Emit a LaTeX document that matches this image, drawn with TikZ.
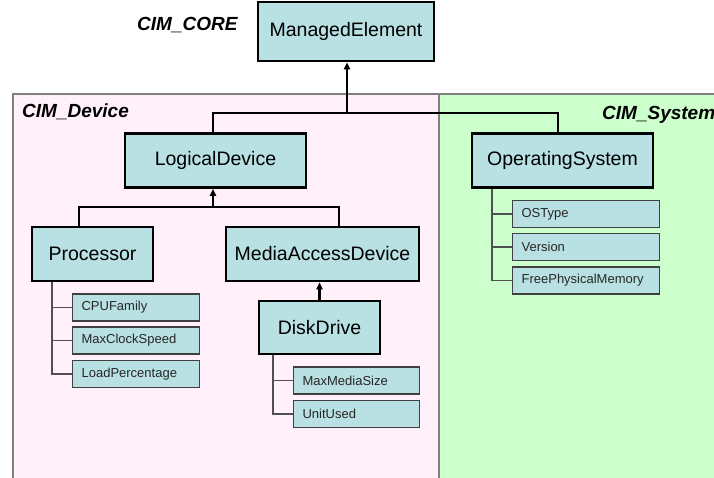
\documentclass[tikz,border=0pt]{standalone}
\usepackage{fontspec}
\setmainfont{Liberation Sans}
\usetikzlibrary{arrows.meta, positioning}

\definecolor{pinkbg}{HTML}{FFF0FA}
\definecolor{greenbg}{HTML}{CCFFCC}
\definecolor{classfill}{HTML}{B9E0E2}
\definecolor{edgegray}{HTML}{808080}
\definecolor{attrline}{HTML}{505050}

\begin{document}
\begin{tikzpicture}[x=1pt, y=-1pt,
    class/.style={draw, line width=2.6pt, fill=classfill, minimum height=54pt,
      inner sep=0pt, font=\fontsize{19.5}{22}\selectfont},
    attr/.style={draw=black!75, line width=1.2pt, fill=classfill, minimum height=27pt,
      inner xsep=9pt, inner ysep=0pt, text width=#1, align=left, anchor=west,
      text=black!85, font=\fontsize{13}{15}\selectfont},
    pkg/.style={anchor=base west, inner sep=0pt, font=\fontsize{19}{22}\selectfont\bfseries\itshape},
    link/.style={line width=2.4pt},
    arrowlink/.style={link, -{Triangle[length=7pt, width=6pt]}},
    tree/.style={attrline, line width=1.2pt}]

      \useasboundingbox (0,0) rectangle (714,477);

      % Draw the two package areas
      \fill[pinkbg] (13,94) rectangle (439,482);
      \fill[greenbg] (439,94) rectangle (720,482);
      \draw[edgegray, line width=1.2pt] (13,482) -- (13,94) -- (720,94);
      \draw[edgegray, line width=1.2pt] (439,94) -- (439,482);

      \node[pkg] (core) at (137,30) {CIM\_CORE};
      \node[pkg] (device) at (22,117) {CIM\_Device};
      \node[pkg] (system) at (602,119) {CIM\_System};

      % Draw the classes
      \node[class, minimum width=176pt, minimum height=59pt] (mgd) at (346,31.5) {ManagedElement};
      \node[class, minimum width=181pt] (logdev) at (215.5,160.5) {LogicalDevice};
      \node[class, minimum width=181pt] (osys) at (562.5,160.5) {OperatingSystem};
      \node[class, minimum width=121pt] (proc) at (92.5,254) {Processor};
      \node[class, minimum width=193pt] (mad) at (322.5,254) {MediaAccessDevice};
      \node[class, minimum width=121pt, minimum height=53pt] (disk) at (319.5,327.5) {DiskDrive};

      % Draw the attribute boxes
      \node[attr=109pt] (cpu) at (72,307.5) {CPUFamily};
      \node[attr=109pt] (clock) at (72,340.5) {MaxClockSpeed};
      \node[attr=109pt] (load) at (72,374) {LoadPercentage};

      \node[attr=108pt] (media) at (293,380.5) {MaxMediaSize};
      \node[attr=108pt] (unit) at (293,414) {UnitUsed};

      \node[attr=129pt] (ostype) at (512,214) {OSType};
      \node[attr=129pt] (version) at (512,247) {Version};
      \node[attr=129pt] (freemem) at (512,280.5) {FreePhysicalMemory};

      % Draw the inheritance lines
      \coordinate (topbus) at (347,113);
      \draw[link] ([xshift=-2.5]logdev.north) |- (topbus);
      \draw[link] ([xshift=-4.5]osys.north) |- (topbus);
      \draw[arrowlink] (topbus) -- (topbus |- mgd.south);

      \coordinate (devbus) at (213,207);
      \draw[link] ([xshift=-13.5]proc.north) |- (devbus);
      \draw[link] ([xshift=16.5]mad.north) |- (devbus);
      \draw[arrowlink] (devbus) -- (devbus |- logdev.south);

      \draw[arrowlink] (disk.north) -- (disk.north |- mad.south);

      % Draw the lines to the attributes
      \draw[tree] (cpu.west) -- ++(-20,0);
      \draw[tree] (clock.west) -- ++(-20,0);
      \draw[tree] (load.west) -- ++(-20,0) coordinate (pbend) -- (pbend |- proc.south);

      \draw[tree] (media.west) -- ++(-20,0);
      \draw[tree] (unit.west) -- ++(-20,0) coordinate (dbend) -- (dbend |- disk.south);

      \draw[tree] (ostype.west) -- ++(-20,0);
      \draw[tree] (version.west) -- ++(-20,0);
      \draw[tree] (freemem.west) -- ++(-20,0) coordinate (obend) -- (obend |- osys.south);

    \end{tikzpicture}
\end{document}
